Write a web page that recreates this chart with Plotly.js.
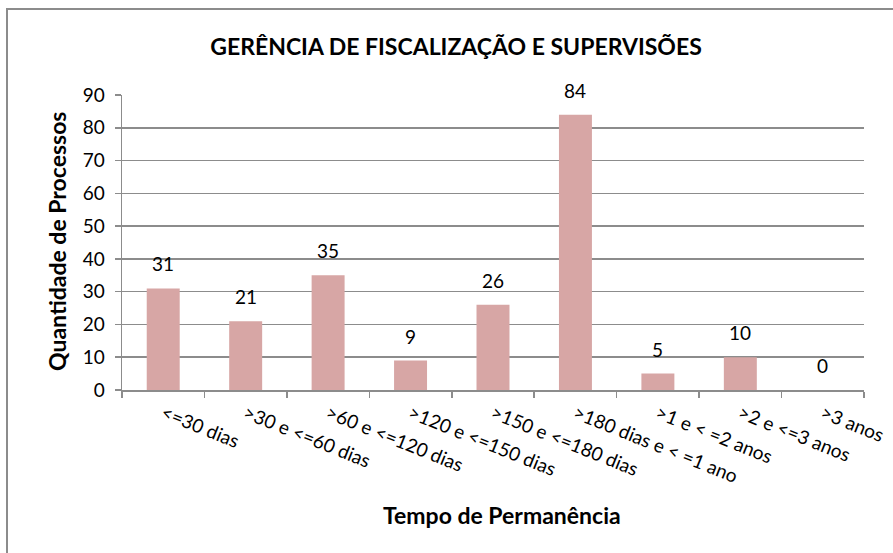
<!DOCTYPE html>
<html>
<head>
<meta charset="utf-8">
<script src="https://cdn.plot.ly/plotly-3.0.1.min.js"></script>
<style>html,body{margin:0;padding:0;background:#fff;}#chart{width:893px;height:553px;}</style>
</head>
<body>
<div id="chart"></div>
<script>
const categories = ["<=30 dias", ">30 e <=60 dias", ">60 e <=120 dias", ">120 e <=150 dias", ">150 e <=180 dias", ">180 dias e < =1 ano", ">1 e < =2 anos", ">2 e <=3 anos", ">3 anos"];
const values = [31, 21, 35, 9, 26, 84, 5, 10, 0];
const chartTitle = "GERÊNCIA DE FISCALIZAÇÃO E SUPERVISÕES";
const xTitle = "Tempo de Permanência";
const yTitle = "Quantidade de Processos";

const FONT = "Lato, 'Liberation Sans', sans-serif";
const W = 893, H = 553;
const L = 122, R = 29, T = 95, B = 163;
const pw = W - L - R, ph = H - T - B;

const trace = {
  type: "bar",
  x: categories,
  y: values,
  marker: {color: "#D7A6A5", line: {width: 0}},
  hoverinfo: "x+y"
};

const annotations = categories.map((c, i) => ({
  x: c, y: values[i], xref: "x", yref: "y",
  text: String(values[i]), showarrow: false,
  yanchor: "bottom", yshift: 11,
  font: {family: FONT, size: 19, color: "#000"}
}));

annotations.push({
  xref: "paper", yref: "paper",
  x: (502 - L) / pw, y: (H - B - 515) / ph,
  xanchor: "center", yanchor: "middle",
  text: "<b>" + xTitle + "</b>", showarrow: false,
  font: {family: FONT, size: 23, color: "#000"}
});
annotations.push({
  xref: "paper", yref: "paper",
  x: (57 - L) / pw, y: (H - B - 242) / ph,
  xanchor: "center", yanchor: "middle", textangle: -90,
  text: "<b>" + yTitle + "</b>", showarrow: false,
  font: {family: FONT, size: 23, color: "#000"}
});

const layout = {
  width: W, height: H,
  margin: {l: L, r: R, t: T, b: B},
  paper_bgcolor: "#fff", plot_bgcolor: "#fff",
  showlegend: false,
  bargap: 0.6,
  title: {text: "<b>" + chartTitle + "</b>", x: 456 / W, xref: "container", xanchor: "center",
          y: 1 - 47 / H, yref: "container", yanchor: "middle",
          font: {family: FONT, size: 23, color: "#000"}},
  xaxis: {
    type: "category",
    showgrid: false,
    showline: true, linecolor: "#8C8C8C", linewidth: 1.5,
    ticks: "outside", tickson: "boundaries", ticklen: 6, tickcolor: "#8C8C8C", tickwidth: 1.5,
    tickangle: 22, ticklabelstandoff: 4,
    tickfont: {family: FONT, size: 19, color: "#000"},
    fixedrange: true
  },
  yaxis: {
    range: [0, 90], dtick: 10, tick0: 0,
    showgrid: true, gridcolor: "#8C8C8C", gridwidth: 1.5,
    showline: true, linecolor: "#8C8C8C", linewidth: 1.5,
    ticks: "outside", ticklen: 6, tickcolor: "#8C8C8C", tickwidth: 1.5,
    ticklabelstandoff: 6,
    tickfont: {family: FONT, size: 19, color: "#000"},
    zeroline: false,
    fixedrange: true
  },
  annotations: annotations,
  shapes: [{
    type: "rect", xref: "paper", yref: "paper",
    x0: (7 - L) / pw, x1: (W + 20 - L) / pw,
    y0: (H - B - (H + 20)) / ph, y1: (H - B - 9) / ph,
    line: {color: "#8C8C8C", width: 2}, fillcolor: "rgba(0,0,0,0)", layer: "below"
  }]
};

Plotly.newPlot("chart", [trace], layout, {displayModeBar: false, staticPlot: true});
</script>
</body>
</html>
